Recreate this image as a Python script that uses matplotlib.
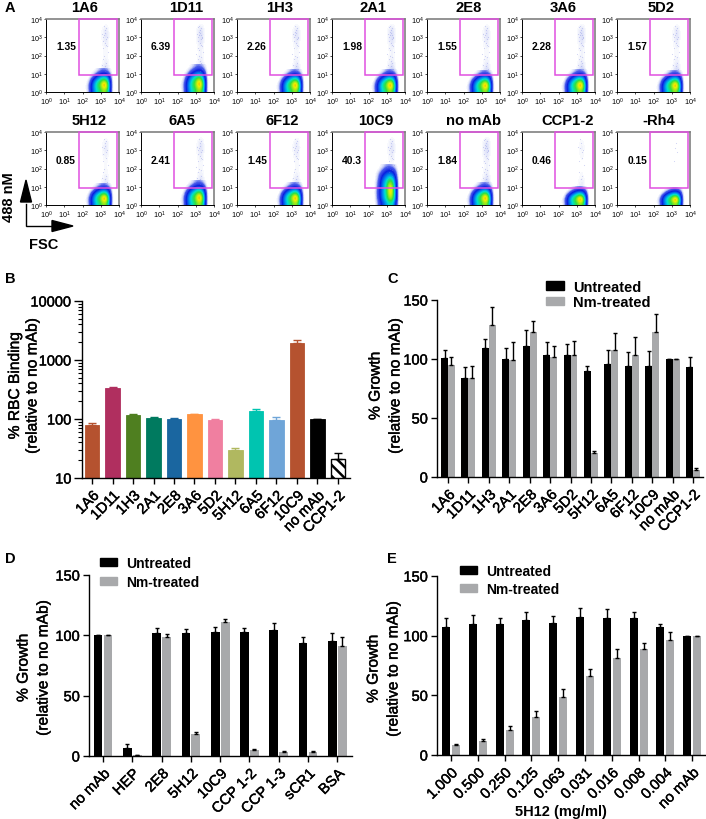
import numpy as np
import matplotlib
matplotlib.use('Agg')
import matplotlib.pyplot as plt
import matplotlib.patheffects as pe
from matplotlib.colors import LinearSegmentedColormap
from matplotlib.patches import Patch, Polygon, Rectangle
from matplotlib.transforms import ScaledTranslation

plt.rcParams['font.family'] = ['Liberation Sans', 'DejaVu Sans']
plt.rcParams['mathtext.default'] = 'regular'
plt.rcParams['hatch.linewidth'] = 1.8

W, H = 706, 820

# panel A
flow_names = [['1A6', '1D11', '1H3', '2A1', '2E8', '3A6', '5D2'],
              ['5H12', '6A5', '6F12', '10C9', 'no mAb', 'CCP1-2', '-Rh4']]
flow_pct = [['1.35', '6.39', '2.26', '1.98', '1.55', '2.28', '1.57'],
            ['0.85', '2.41', '1.45', '40.3', '1.84', '0.46', '0.15']]
flow_tail = [[0.75, 1.0, 0.85, 1.0, 0.8, 1.0, 0.8],
             [0.6, 0.8, 0.7, 0.8, 1.0, 0.4, 0.12]]
flow_core_top = [[1.3, 1.5, 1.25, 1.25, 1.2, 1.25, 1.2],
                 [1.2, 1.35, 1.25, 2.2, 1.25, 1.0, 0.95]]
title_x = [[85, 186, 280, 373, 469, 563, 661],
           [89, 182, 282, 376, 474, 568, 659]]

# density, rows from y=10^0 upward, cols x=10^2.0 .. 10^3.8
core_grid = [
    [0, 0, .04, .30, .50, .62, .80, .64, 0, 0],
    [0, 0, .06, .34, .55, .70, .94, .78, 0, 0],
    [0, 0, .04, .30, .54, .70, .98, .74, 0, 0],
    [0, 0, .01, .20, .42, .56, .74, .54, 0, 0],
    [0, 0, 0, .05, .22, .36, .44, .34, 0, 0],
    [0, 0, 0, .01, .06, .14, .20, .14, 0, 0],
    [0, 0, 0, 0, .01, .05, .07, .04, 0, 0],
]
core_grid_10c9 = [
    [0, 0, 0, .08, .26, .40, .56, .44, 0, 0],
    [0, 0, 0, .12, .36, .52, .82, .64, 0, 0],
    [0, 0, 0, .14, .38, .56, .92, .68, 0, 0],
    [0, 0, 0, .14, .38, .58, .98, .70, 0, 0],
    [0, 0, 0, .12, .36, .56, .96, .66, 0, 0],
    [0, 0, 0, .10, .34, .52, .80, .58, 0, 0],
    [0, 0, 0, .07, .28, .42, .60, .44, 0, 0],
    [0, 0, 0, .05, .18, .30, .38, .26, 0, 0],
    [0, 0, 0, .01, .07, .16, .20, .13, 0, 0],
    [0, 0, 0, 0, .02, .05, .06, .03, 0, 0],
]
tail_rows = [.50, .35, .22, .15, .12, .12, .15, .22, .28, .30, .25, .10, 0]
tail_cols = [0, .1, .3, .6, 1, .8, .3, 0]
dots_x = [3.2, 3.3, 3.1, 3.25, 3.35, 3.15, 3.28, 3.05, 3.22, 3.38, 3.18, 3.3, 3.12, 3.26, 3.34,
          3.2, 3.08, 3.3, 3.24, 3.14, 3.36, 3.22, 3.28, 3.02, 3.18, 3.32, 3.26, 3.1, 3.2, 3.3]
dots_y = [3.1, 2.9, 2.4, 3.4, 3.0, 1.8, 2.6, 3.2, 1.4, 2.2, 3.6, 1.6, 2.8, 3.25, 1.25,
          2.0, 1.5, 3.5, 2.7, 3.0, 2.5, 1.15, 1.9, 2.1, 3.3, 2.95, 1.7, 3.55, 2.3, 3.15]

# panel B
b_names = ['1A6', '1D11', '1H3', '2A1', '2E8', '3A6', '5D2', '5H12', '6A5', '6F12', '10C9', 'no mAb', 'CCP1-2']
b_vals = [80, 330, 115, 105, 100, 120, 97, 30, 135, 97, 1950, 100, 21]
b_tops = [84, 350, 122, 108, 104, 122, 101, 32, 147, 107, 2200, 100, 27]
b_colors = ['#b5522f', '#b02f5f', '#4f7f20', '#007a5f', '#1a66a0', '#ff9340', '#f07fa0',
            '#b0b860', '#00c4b0', '#6fa5d8', '#b5522f', '#000000', '#ffffff']

# panel C
c_names = b_names
c_untreated = [101, 84, 109, 100, 111, 103, 103, 90, 96, 94, 94, 100, 93]
c_untreated_top = [108, 93, 117, 109, 125, 114, 113, 94, 108, 106, 107, 100, 102]
c_nm = [95, 84, 129, 99, 123, 102, 103, 20, 108, 103, 123, 100, 6]
c_nm_top = [102, 94, 144, 114, 132, 111, 115, 22, 122, 119, 138, 100, 8]

# panel D
d_names = ['no mAb', 'HEP', '2E8', '5H12', '10C9', 'CCP 1-2', 'CCP 1-3', 'sCR1', 'BSA']
d_untreated = [100.5, 7, 102, 102, 103, 102.5, 104.5, 94, 95.5]
d_untreated_top = [100.5, 10, 106, 105, 107, 106, 110, 99, 102]
d_nm = [100.5, 1, 98.5, 18, 111, 5, 3.5, 3.5, 91.5]
d_nm_top = [100.5, 1.2, 101, 20, 113.5, 6, 4.5, 4.5, 99]

# panel E
e_names = ['1.000', '0.500', '0.250', '0.125', '0.063', '0.031', '0.016', '0.008', '0.004', 'no mAb']
e_untreated = [107, 109.5, 110, 113, 110.5, 116, 115, 115, 107, 100]
e_untreated_top = [115, 117, 115, 120, 116.5, 123, 122, 120, 110, 100]
e_nm = [8, 12, 21, 32, 49, 66, 81, 89, 96, 100]
e_nm_top = [9, 13, 24, 37, 55, 72, 89, 94, 103, 100]

GREY = '#a8a9ab'
MEDIUM = [pe.withStroke(linewidth=0.3, foreground='black')]

fig = plt.figure(figsize=(W / 100, H / 100), dpi=100)


def px_axes(left, top, right, bottom):
    return fig.add_axes([left / W, 1 - bottom / H, (right - left) / W, (bottom - top) / H])


page = fig.add_axes([0, 0, 1, 1], zorder=5)
page.set_xlim(0, W)
page.set_ylim(H, 0)
page.axis('off')

density_cmap = LinearSegmentedColormap.from_list('flow', [
    (0, '#ffffff'), (.03, '#cdd3f7'), (.08, '#4a5cec'), (.2, '#0a1fe0'), (.38, '#0090f0'),
    (.5, '#00e0d0'), (.65, '#30e040'), (.85, '#f0f000'), (1, '#f03010')])
density_cmap.set_under((1, 1, 1, 0))

flow_left = [46, 141, 237, 332, 427, 522, 617]
flow_top = [20, 133]
tick_txt = [r'$\mathregular{10^{%d}}$' % i for i in range(5)]

for r in range(2):
    for c in range(7):
        ax = px_axes(flow_left[c], flow_top[r], flow_left[c] + 73, flow_top[r] + 73)
        name = flow_names[r][c]
        tail = np.outer(tail_rows, tail_cols) * 0.09 * flow_tail[r][c]
        ax.imshow(tail, origin='lower', extent=(2.8, 3.6, 1.0, 4.0), aspect='auto', cmap=density_cmap,
                  vmin=0.001, vmax=1, interpolation='bicubic', interpolation_stage='data')
        grid = core_grid_10c9 if name == '10C9' else core_grid
        ax.imshow(grid, origin='lower', extent=(1.85, 3.85, 0, flow_core_top[r][c]), aspect='auto',
                  cmap=density_cmap, vmin=0.004, vmax=1, interpolation='bicubic', interpolation_stage='data')
        n_dots = int(round(flow_tail[r][c] * len(dots_x)))
        ax.scatter(dots_x[:n_dots], dots_y[:n_dots], s=0.6, color='#6f78e0', alpha=0.35, linewidths=0)
        ax.add_patch(Rectangle((1.8, 0.93), 2.1, 3.07, fill=False, ec='#e050e0', lw=1.1, clip_on=False, zorder=4))
        ax.set_xlim(0, 4)
        ax.set_ylim(0, 4)
        ax.set_xticks(range(5))
        ax.set_yticks(range(5))
        ax.set_xticklabels(tick_txt, fontsize=5.2)
        ax.set_yticklabels(tick_txt, fontsize=5.2)
        ax.tick_params(length=1.5, width=0.5, pad=1)
        for s in ['left', 'bottom']:
            ax.spines[s].set_linewidth(0.7)
        for s in ['top', 'right']:
            ax.spines[s].set_linewidth(1.2)
            ax.spines[s].set_color('#808080')
        page.text(title_x[r][c], flow_top[r] - 12, name, ha='center', va='center', fontsize=10.6, fontweight='bold')
        page.text(flow_left[c] + 20, flow_top[r] + 27.5, flow_pct[r][c], ha='center', va='center',
                  fontsize=7.4, fontweight='bold')

# 488 nM / FSC arrows
page.plot([26, 26, 55], [205, 227, 227], color='black', lw=1, solid_joinstyle='miter')
page.add_patch(Polygon([[26, 181], [20.5, 203], [31.5, 203]], color='black'))
page.add_patch(Polygon([[73, 227], [52, 221.5], [52, 232.5]], color='black'))
page.text(9, 197, '488 nM', rotation=90, ha='center', va='center', fontsize=10.5, fontweight='bold')
page.text(43.5, 245, 'FSC', ha='center', va='center', fontsize=10.5, fontweight='bold')


def bar_axes(box, xlim, ylim, names, fontsize=10.6):
    ax = px_axes(*box)
    ax.set_xlim(*xlim)
    ax.set_ylim(*ylim)
    ax.spines['top'].set_visible(False)
    ax.spines['right'].set_visible(False)
    ax.spines['left'].set_linewidth(1)
    ax.spines['bottom'].set_linewidth(1)
    ax.set_xticks(range(len(names)))
    ax.set_xticklabels(names, rotation=45, ha='right', va='top', rotation_mode='anchor',
                       fontsize=fontsize, path_effects=MEDIUM)
    shift = ScaledTranslation(4 / 100, 0, fig.dpi_scale_trans)
    for t in ax.get_xticklabels():
        t.set_transform(t.get_transform() + shift)
    ax.tick_params(axis='x', length=4.5, width=1, pad=3)
    ax.tick_params(axis='y', length=4.5, width=1, pad=2, labelsize=10.5)
    return ax


def two_series(ax, off, width, unt, unt_top, nm, nm_top):
    x = np.arange(len(unt))
    for xs, vals, tops, col in [(x - off, unt, unt_top, 'black'), (x + off, nm, nm_top, GREY)]:
        ax.bar(xs, vals, width, color=col, linewidth=0)
        err = np.array(tops) - np.array(vals)
        ax.errorbar(xs, vals, yerr=[np.zeros(len(err)), err], fmt='none', ecolor='black',
                    elinewidth=1, capsize=1.3, capthick=1)


def legend(ax, x, y, size, spacing):
    return ax.legend([Patch(color='black'), Patch(color=GREY)], ['Untreated', 'Nm-treated'],
                     loc='upper left', bbox_to_anchor=(x / W, 1 - y / H), bbox_transform=fig.transFigure,
                     frameon=False, borderpad=0, borderaxespad=0, handlelength=1.2, handleheight=0.55,
                     handletextpad=0.65, labelspacing=spacing, prop={'size': size, 'weight': 'bold'})


def ylabels(x1, x2, yc, first, size=11.2):
    page.text(x1, yc, first, rotation=90, ha='center', va='center', fontsize=size, path_effects=MEDIUM)
    page.text(x2, yc, '(relative to no mAb)', rotation=90, ha='center', va='center', fontsize=size,
              path_effects=MEDIUM)


def growth_ticks(ax):
    ax.set_yticks([0, 50, 100, 150])
    for t in ax.get_yticklabels():
        t.set_path_effects(MEDIUM)


# B
ax = bar_axes((82, 302, 350, 479), (-0.49, 12.59), (10, 10000), b_names)
ax.set_yscale('log')
ax.set_ylim(10, 10000)
ax.set_yticks([10, 100, 1000, 10000])
ax.set_yticklabels(['10', '100', '1000', '10000'], fontsize=10.5, path_effects=MEDIUM)
ax.tick_params(axis='y', which='major', length=5.5, width=1)
ax.tick_params(axis='y', which='minor', length=3, width=0.8)
for i in range(len(b_vals)):
    if b_names[i] == 'CCP1-2':
        ax.bar(i, b_vals[i], 0.72, color='white', edgecolor='black', hatch='\\\\\\', linewidth=1)
    else:
        ax.bar(i, b_vals[i], 0.72, color=b_colors[i], edgecolor=b_colors[i], linewidth=0.6)
    ecol = 'black' if b_names[i] == 'CCP1-2' else b_colors[i]
    ax.errorbar(i, b_vals[i], yerr=[[0], [b_tops[i] - b_vals[i]]], fmt='none', ecolor=ecol,
                elinewidth=1, capsize=3, capthick=1)
ylabels(14.5, 32, 387, '% RBC Binding')

# C
ax = bar_axes((437, 301, 703, 478), (-0.54, 12.49), (0, 150), c_names)
growth_ticks(ax)
two_series(ax, 0.17, 0.34, c_untreated, c_untreated_top, c_nm, c_nm_top)
legend(ax, 546, 281, 10.5, 0.08)
ylabels(375, 395, 387, '% Growth')

# D
ax = bar_axes((89, 576, 352, 757), (-0.478, 8.5), (0, 150), d_names)
growth_ticks(ax)
two_series(ax, 0.17, 0.30, d_untreated, d_untreated_top, d_nm, d_nm_top)
legend(ax, 100, 557, 10, 0.35)
ylabels(23, 43, 669, '% Growth')

# E
ax = bar_axes((437, 577, 705, 756), (-0.52, 9.48), (0, 150), e_names)
growth_ticks(ax)
two_series(ax, 0.187, 0.30, e_untreated, e_untreated_top, e_nm, e_nm_top)
legend(ax, 460, 565, 10, 0.3)
ylabels(373, 393, 670, '% Growth')
page.text(561, 812, '5H12 (mg/ml)', ha='center', va='center', fontsize=10.5, fontweight='bold')

# panel letters
for letter, x, y in [('A', 10, 8), ('B', 10, 279), ('C', 393, 279), ('D', 10, 559), ('E', 392, 559)]:
    page.text(x, y, letter, ha='center', va='center', fontsize=10.5, fontweight='bold')

fig.savefig('out.png', dpi=100)
